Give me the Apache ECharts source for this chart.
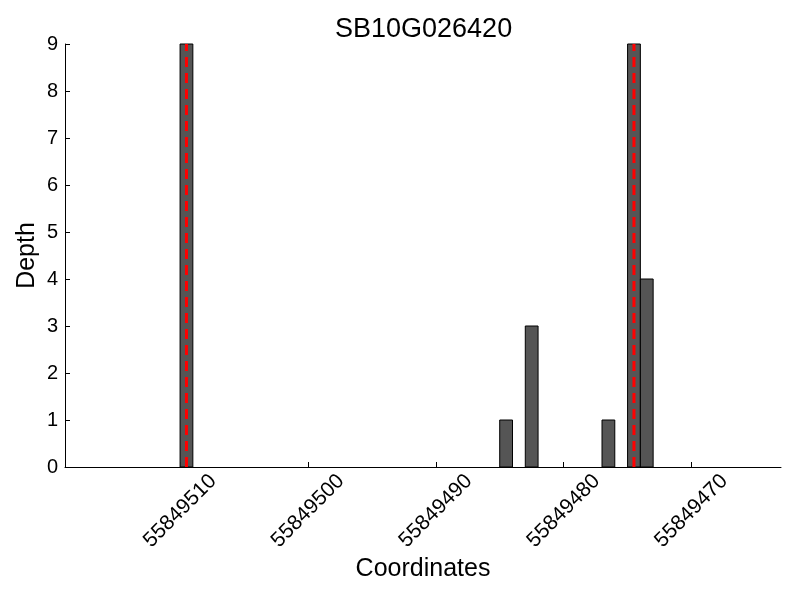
<!DOCTYPE html>
<html>
<head>
<meta charset="utf-8">
<script src="https://cdn.jsdelivr.net/npm/echarts@6/dist/echarts.min.js"></script>
<style>html,body{margin:0;padding:0;background:#fff}#c{width:800px;height:600px}</style>
</head>
<body>
<div id="c"></div>
<script>
// Data
const chartTitle = 'SB10G026420';
const barStarts = [55849509, 55849484, 55849482, 55849476, 55849474, 55849473];
const barDepths = [9, 1, 3, 1, 9, 4];
const barWidthUnits = 1;
const markerPositions = [55849509.5, 55849474.5];
const xTickValues = [55849510, 55849500, 55849490, 55849480, 55849470];
const yTickValues = [0, 1, 2, 3, 4, 5, 6, 7, 8, 9];
const xRange = [55849463, 55849519];
const yRange = [0, 9];

const FONT = 'Liberation Sans, Arial, sans-serif';
const chart = echarts.init(document.getElementById('c'));

const barData = barStarts.map((x, i) => [x, barDepths[i]]);

const markerSeries = markerPositions.map(m => ({
  type: 'line',
  data: [[m, yRange[0]], [m, yRange[1]]],
  symbol: 'none',
  silent: true,
  z: 5,
  lineStyle: { color: '#ff0000', width: 3, type: [10, 6], opacity: 1 }
}));

chart.setOption({
  animation: false,
  title: {
    text: chartTitle,
    left: 335,
    top: 16,
    padding: 0,
    textStyle: { fontFamily: FONT, fontSize: 27, fontWeight: 'normal', color: '#000' }
  },
  grid: { left: 65, right: 19, top: 44, bottom: 133, containLabel: false, outerBoundsMode: 'none' },
  xAxis: {
    type: 'value',
    inverse: true,
    min: xRange[0],
    max: xRange[1],
    name: 'Coordinates',
    nameLocation: 'middle',
    nameGap: 90,
    nameMoveOverlap: false,
    nameTextStyle: { fontFamily: FONT, fontSize: 25, color: '#000' },
    axisLine: { show: true, onZero: false, lineStyle: { color: '#000', width: 1 } },
    axisTick: { show: true, inside: true, length: 5, customValues: xTickValues, lineStyle: { color: '#000' } },
    axisLabel: {
      customValues: xTickValues,
      rotate: 45,
      align: 'center',
      verticalAlign: 'middle',
      margin: 44,
      fontFamily: FONT,
      fontSize: 21,
      color: '#000',
      formatter: v => String(v)
    },
    splitLine: { show: false }
  },
  yAxis: {
    type: 'value',
    min: yRange[0],
    max: yRange[1],
    name: 'Depth',
    nameLocation: 'middle',
    nameGap: 25,
    nameMoveOverlap: false,
    nameTextStyle: { fontFamily: FONT, fontSize: 25, color: '#000' },
    axisLine: { show: true, lineStyle: { color: '#000', width: 1 } },
    axisTick: { show: true, inside: true, length: 5, customValues: yTickValues, lineStyle: { color: '#000' } },
    axisLabel: { customValues: yTickValues, margin: 7, fontFamily: FONT, fontSize: 20, color: '#000' },
    splitLine: { show: false }
  },
  series: [
    {
      type: 'custom',
      data: barData,
      z: 2,
      renderItem: function (params, api) {
        const x = api.value(0), v = api.value(1);
        const p0 = api.coord([x, 0]);
        const p1 = api.coord([x + barWidthUnits, v]);
        const left = Math.min(p0[0], p1[0]);
        return {
          type: 'rect',
          shape: { x: left, y: p1[1], width: Math.abs(p1[0] - p0[0]), height: p0[1] - p1[1] },
          style: { fill: '#555555', stroke: '#000000', lineWidth: 1 }
        };
      }
    }
  ].concat(markerSeries)
});
</script>
</body>
</html>
